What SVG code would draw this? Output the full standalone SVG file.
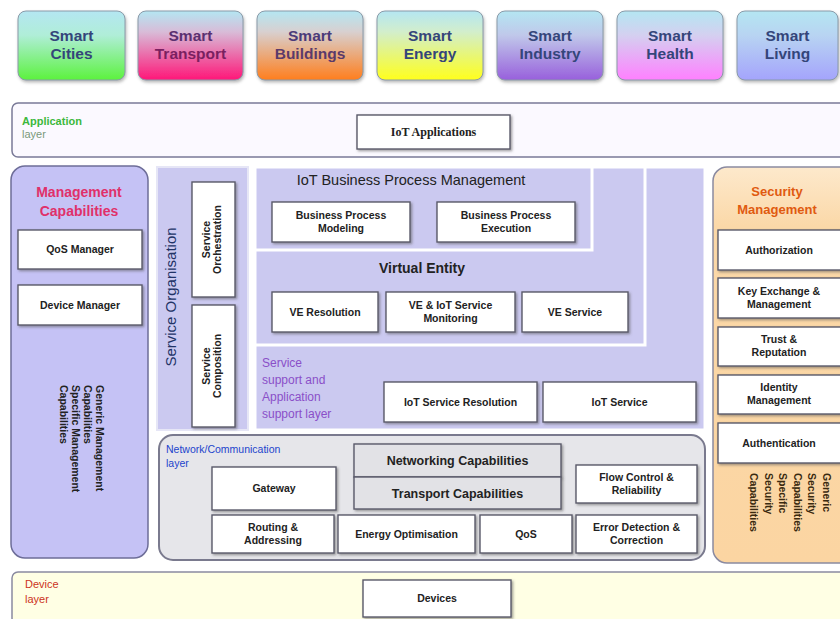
<svg xmlns="http://www.w3.org/2000/svg" width="840" height="619" viewBox="0 0 840 619">
<defs>
<filter id="sh" x="-10%" y="-10%" width="130%" height="140%"><feDropShadow dx="1.5" dy="1.5" stdDeviation="0.8" flood-color="#555" flood-opacity="0.55"/></filter>
<filter id="sh2" x="-10%" y="-10%" width="130%" height="140%"><feDropShadow dx="1" dy="2" stdDeviation="1.5" flood-color="#666" flood-opacity="0.45"/></filter>
<linearGradient id="gCities" x1="0" y1="0" x2="0" y2="1"><stop offset="0" stop-color="#b4e6f2"/><stop offset="0.35" stop-color="#b0eed8"/><stop offset="1" stop-color="#5cf23e"/></linearGradient>
<linearGradient id="gTrans" x1="0" y1="0" x2="0" y2="1"><stop offset="0" stop-color="#b4e6f2"/><stop offset="0.3" stop-color="#d8bcd8"/><stop offset="1" stop-color="#ff1678"/></linearGradient>
<linearGradient id="gBuild" x1="0" y1="0" x2="0" y2="1"><stop offset="0" stop-color="#b4e6f2"/><stop offset="0.3" stop-color="#d8d0d0"/><stop offset="1" stop-color="#ff7e1c"/></linearGradient>
<linearGradient id="gEnergy" x1="0" y1="0" x2="0" y2="1"><stop offset="0" stop-color="#b4e6f2"/><stop offset="0.3" stop-color="#d2eecc"/><stop offset="1" stop-color="#ffff1c"/></linearGradient>
<linearGradient id="gInd" x1="0" y1="0" x2="0" y2="1"><stop offset="0" stop-color="#b4e6f2"/><stop offset="0.35" stop-color="#c0c8ea"/><stop offset="1" stop-color="#9860dc"/></linearGradient>
<linearGradient id="gHealth" x1="0" y1="0" x2="0" y2="1"><stop offset="0" stop-color="#b4e6f2"/><stop offset="0.35" stop-color="#d4d0f0"/><stop offset="1" stop-color="#ff80ff"/></linearGradient>
<linearGradient id="gLiving" x1="0" y1="0" x2="0" y2="1"><stop offset="0" stop-color="#b4e6f2"/><stop offset="0.35" stop-color="#b8d4f2"/><stop offset="1" stop-color="#a4a4fc"/></linearGradient>
<linearGradient id="gSec" x1="0" y1="0" x2="0" y2="1"><stop offset="0" stop-color="#fde9cc"/><stop offset="0.15" stop-color="#fbd8a8"/><stop offset="1" stop-color="#fbd5a2"/></linearGradient>
<style>
.smart{stroke:#8a9aa8;stroke-width:1;filter:url(#sh2)}
.st{font-family:"Liberation Sans",Arial,sans-serif;font-weight:bold;font-size:15.5px;text-anchor:middle;fill:#34457a}
.box{fill:#fff;stroke:#5a5a6a;stroke-width:1.4;filter:url(#sh)}
.gbox{fill:#e2e2e6;stroke:#5a5a6a;stroke-width:1.4;filter:url(#sh)}
.bt{font-family:"Liberation Sans",Arial,sans-serif;font-weight:bold;font-size:10.5px;text-anchor:middle;fill:#222}
.panel{fill:#cbc9f0;stroke:#fff;stroke-width:3}
.ttl{font-family:"Liberation Sans",Arial,sans-serif;font-weight:bold;font-size:14px;text-anchor:middle;fill:#222}
.rot{font-family:"Liberation Sans",Arial,sans-serif;font-weight:bold;font-size:10.5px;fill:#222}
</style>
</defs>
<rect width="840" height="619" fill="#fff"/>

<g id="smart-cities"><rect class="smart" x="18" y="11" width="107" height="69" rx="8" fill="url(#gCities)"/><text class="st" x="71.5" y="41">Smart</text><text class="st" x="71.5" y="59">Cities</text></g>
<g id="smart-transport"><rect class="smart" x="138" y="11" width="105" height="69" rx="8" fill="url(#gTrans)"/><text class="st" x="190.5" y="41" style="fill:#5a3070">Smart</text><text class="st" x="190.5" y="59" style="fill:#7a2060">Transport</text></g>
<g id="smart-buildings"><rect class="smart" x="257" y="11" width="106" height="69" rx="8" fill="url(#gBuild)"/><text class="st" x="310" y="41" style="fill:#4a3a7a">Smart</text><text class="st" x="310" y="59" style="fill:#5a3a6a">Buildings</text></g>
<g id="smart-energy"><rect class="smart" x="377" y="11" width="106" height="69" rx="8" fill="url(#gEnergy)"/><text class="st" x="430" y="41">Smart</text><text class="st" x="430" y="59">Energy</text></g>
<g id="smart-industry"><rect class="smart" x="497" y="11" width="106" height="69" rx="8" fill="url(#gInd)"/><text class="st" x="550" y="41">Smart</text><text class="st" x="550" y="59">Industry</text></g>
<g id="smart-health"><rect class="smart" x="617" y="11" width="106" height="69" rx="8" fill="url(#gHealth)"/><text class="st" x="670" y="41">Smart</text><text class="st" x="670" y="59">Health</text></g>
<g id="smart-living"><rect class="smart" x="737" y="11" width="101" height="69" rx="8" fill="url(#gLiving)"/><text class="st" x="787.5" y="41">Smart</text><text class="st" x="787.5" y="59">Living</text></g>

<g id="application-layer">
<rect x="12" y="103" width="840" height="54" rx="6" fill="#fbf9ff" stroke="#7a7a98" stroke-width="1.5"/>
<text x="22" y="125" font-family="Liberation Sans,Arial,sans-serif" font-size="11" font-weight="bold" fill="#3cb83c">Application</text>
<text x="22" y="138" font-family="Liberation Sans,Arial,sans-serif" font-size="11" fill="#7a9a7a">layer</text>
</g>
<g id="iot-applications"><rect class="box" x="357" y="115" width="153" height="34"/><text x="433.5" y="136" font-family="Liberation Serif,Times New Roman,serif" font-weight="bold" font-size="12" text-anchor="middle" fill="#222">IoT Applications</text></g>

<g id="management-capabilities">
<rect x="11" y="166" width="137" height="392" rx="14" fill="#c5c2f5" stroke="#6d6d98" stroke-width="1.5"/>
<text x="79" y="197" font-family="Liberation Sans,Arial,sans-serif" font-weight="bold" font-size="14" text-anchor="middle" fill="#e0306a">Management</text>
<text x="79" y="216" font-family="Liberation Sans,Arial,sans-serif" font-weight="bold" font-size="14" text-anchor="middle" fill="#e0306a">Capabilities</text>
<text class="rot" transform="translate(96,385) rotate(90)"><tspan x="0" y="0">Generic Management</tspan><tspan x="0" y="12">Capabilities</tspan><tspan x="0" y="24">Specific Management</tspan><tspan x="0" y="36">Capabilities</tspan></text>
</g>
<g id="qos-manager"><rect class="box" x="18" y="230" width="124" height="39"/><text class="bt" x="80" y="253">QoS Manager</text></g>
<g id="device-manager"><rect class="box" x="18" y="285" width="124" height="40"/><text class="bt" x="80" y="309">Device Manager</text></g>

<g id="service-organisation">
<rect x="157" y="167" width="91" height="263" fill="#cbc9f0" stroke="#e6e6f6" stroke-width="2"/>
<text transform="translate(176,297) rotate(-90)" x="0" y="0" font-family="Liberation Sans,Arial,sans-serif" font-size="15" text-anchor="middle" fill="#223366">Service Organisation</text>
</g>
<g id="service-orchestration"><rect class="box" x="192" y="182" width="43" height="115"/><text class="rot" transform="translate(210,239.5) rotate(-90)" text-anchor="middle" font-size="9.5"><tspan x="0" y="0">Service</tspan><tspan x="0" y="11">Orchestration</tspan></text></g>
<g id="service-composition"><rect class="box" x="192" y="305" width="43" height="122"/><text class="rot" transform="translate(210,366) rotate(-90)" text-anchor="middle" font-size="9.5"><tspan x="0" y="0">Service</tspan><tspan x="0" y="11">Composition</tspan></text></g>

<g id="service-support-layer">
<rect class="panel" x="255" y="167" width="450" height="263"/>
<text font-family="Liberation Sans,Arial,sans-serif" font-size="12" fill="#8a4fc8"><tspan x="262" y="367">Service</tspan><tspan x="262" y="384">support and</tspan><tspan x="262" y="401">Application</tspan><tspan x="262" y="418">support layer</tspan></text>
</g>
<g id="virtual-entity">
<rect class="panel" x="255" y="167" width="390" height="178"/>
<text class="ttl" x="422" y="273">Virtual Entity</text>
</g>
<g id="iot-bpm">
<rect class="panel" x="255" y="167" width="337" height="83"/>
<text class="ttl" x="411" y="185" style="font-weight:normal;font-size:14.5px">IoT Business Process Management</text>
</g>
<g id="bp-modeling"><rect class="box" x="272" y="202" width="138" height="40"/><text class="bt" x="341" y="219">Business Process</text><text class="bt" x="341" y="232">Modeling</text></g>
<g id="bp-execution"><rect class="box" x="437" y="202" width="138" height="40"/><text class="bt" x="506" y="219">Business Process</text><text class="bt" x="506" y="232">Execution</text></g>
<g id="ve-resolution"><rect class="box" x="272" y="292" width="106" height="40"/><text class="bt" x="325" y="316">VE Resolution</text></g>
<g id="ve-monitoring"><rect class="box" x="386" y="292" width="129" height="40"/><text class="bt" x="450.5" y="309">VE &amp; IoT Service</text><text class="bt" x="450.5" y="322">Monitoring</text></g>
<g id="ve-service"><rect class="box" x="522" y="292" width="106" height="40"/><text class="bt" x="575" y="316">VE Service</text></g>
<g id="iot-service-resolution"><rect class="box" x="384" y="382" width="153" height="40"/><text class="bt" x="460.5" y="406">IoT Service Resolution</text></g>
<g id="iot-service"><rect class="box" x="543" y="382" width="153" height="40"/><text class="bt" x="619.5" y="406">IoT Service</text></g>

<g id="network-layer">
<rect x="159" y="435" width="546" height="125" rx="14" fill="#e6e6ea" stroke="#7a7a8e" stroke-width="2"/>
<text font-family="Liberation Sans,Arial,sans-serif" font-size="10.5" fill="#2244cc"><tspan x="166" y="453">Network/Communication</tspan><tspan x="166" y="467">layer</tspan></text>
</g>
<g id="gateway"><rect class="box" x="212" y="467" width="124" height="43"/><text class="bt" x="274" y="492">Gateway</text></g>
<g id="networking-capabilities"><rect class="gbox" x="354" y="444" width="207" height="33"/><text class="bt" x="457.5" y="465" style="font-size:12.5px">Networking Capabilities</text></g>
<g id="transport-capabilities"><rect class="gbox" x="354" y="477" width="207" height="32"/><text class="bt" x="457.5" y="498" style="font-size:12.5px">Transport Capabilities</text></g>
<g id="flow-control"><rect class="box" x="576" y="465" width="121" height="38"/><text class="bt" x="636.5" y="481">Flow Control &amp;</text><text class="bt" x="636.5" y="494">Reliability</text></g>
<g id="routing"><rect class="box" x="212" y="515" width="122" height="38"/><text class="bt" x="273" y="531">Routing &amp;</text><text class="bt" x="273" y="544">Addressing</text></g>
<g id="energy-optimisation"><rect class="box" x="338" y="515" width="137" height="38"/><text class="bt" x="406.5" y="538">Energy Optimisation</text></g>
<g id="qos"><rect class="box" x="480" y="515" width="92" height="38"/><text class="bt" x="526" y="538">QoS</text></g>
<g id="error-detection"><rect class="box" x="576" y="515" width="121" height="38"/><text class="bt" x="636.5" y="531">Error Detection &amp;</text><text class="bt" x="636.5" y="544">Correction</text></g>

<g id="security-management">
<rect x="713" y="167" width="140" height="396" rx="14" fill="url(#gSec)" stroke="#8a8aa0" stroke-width="1.5"/>
<text x="777" y="196" font-family="Liberation Sans,Arial,sans-serif" font-weight="bold" font-size="13" text-anchor="middle" fill="#e05a10">Security</text>
<text x="777" y="214" font-family="Liberation Sans,Arial,sans-serif" font-weight="bold" font-size="13" text-anchor="middle" fill="#e05a10">Management</text>
<text class="rot" transform="translate(823,473) rotate(90)" style="fill:#3a2a10"><tspan x="0" y="0">Generic</tspan><tspan x="0" y="14.6">Security</tspan><tspan x="0" y="29.2">Capabilities</tspan><tspan x="0" y="43.8">Specific</tspan><tspan x="0" y="58.4">Security</tspan><tspan x="0" y="73">Capabilities</tspan></text>
</g>
<g id="authorization"><rect class="box" x="718" y="230" width="126" height="40"/><text class="bt" x="779" y="254">Authorization</text></g>
<g id="key-exchange"><rect class="box" x="718" y="278" width="126" height="40"/><text class="bt" x="779" y="295">Key Exchange &amp;</text><text class="bt" x="779" y="308">Management</text></g>
<g id="trust"><rect class="box" x="718" y="327" width="126" height="39"/><text class="bt" x="779" y="343">Trust &amp;</text><text class="bt" x="779" y="356">Reputation</text></g>
<g id="identity"><rect class="box" x="718" y="375" width="126" height="39"/><text class="bt" x="779" y="391">Identity</text><text class="bt" x="779" y="404">Management</text></g>
<g id="authentication"><rect class="box" x="718" y="423" width="126" height="40"/><text class="bt" x="779" y="447">Authentication</text></g>

<g id="device-layer">
<rect x="12" y="572" width="840" height="52" rx="6" fill="#ffffe4" stroke="#8a8aa0" stroke-width="1.5"/>
<text font-family="Liberation Sans,Arial,sans-serif" font-size="11" fill="#cc3322"><tspan x="25" y="588">Device</tspan><tspan x="25" y="603">layer</tspan></text>
</g>
<g id="devices"><rect class="box" x="363" y="580" width="148" height="37"/><text class="bt" x="437" y="602">Devices</text></g>

<g id="connectors"></g>
</svg>
